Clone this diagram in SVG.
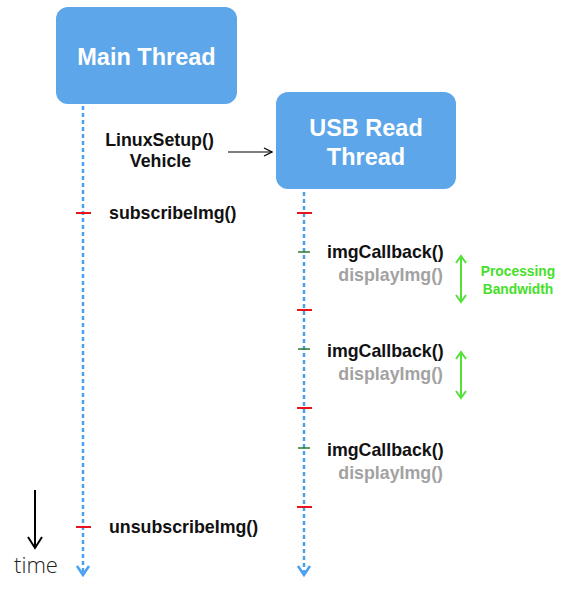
<svg xmlns="http://www.w3.org/2000/svg" width="576" height="600" viewBox="0 0 576 600">
<style>
.box{fill:#5ca6e9;}
.bt{font-family:"Liberation Sans",Arial,sans-serif;font-weight:bold;font-size:23.5px;fill:#fff;text-anchor:middle;}
.life{stroke:#4aa0ef;stroke-width:2.5;stroke-dasharray:4 3;fill:none;}
.head{stroke:#4aa0ef;stroke-width:2.5;fill:none;}
.red{stroke:#e8141c;stroke-width:2;}
.grn{stroke:#2a7a2a;stroke-width:1.5;}
.lbl{font-family:"Liberation Sans",Arial,sans-serif;font-weight:bold;font-size:17.8px;fill:#111;}
.gray{font-family:"Liberation Sans",Arial,sans-serif;font-weight:bold;font-size:17.8px;fill:#a2a2a2;text-anchor:end;}
.gt{font-family:"Liberation Sans",Arial,sans-serif;font-weight:bold;font-size:13.8px;fill:#44e02a;text-anchor:middle;}
.ga{stroke:#55e03a;stroke-width:2;fill:none;}
</style>
<defs>
<marker id="ah" markerWidth="10" markerHeight="10" refX="9" refY="5" orient="auto" markerUnits="userSpaceOnUse"><path d="M1,1 L9,5 L1,9" fill="none" stroke="#000" stroke-width="1.2"/></marker>
</defs>
<g id="main-thread">
<rect class="box" x="56" y="7" width="181" height="97" rx="12"/>
<text class="bt" x="146.5" y="65">Main Thread</text>
</g>
<g id="usb-thread">
<rect class="box" x="276" y="92" width="180" height="97" rx="12"/>
<text class="bt" x="366" y="136">USB Read</text>
<text class="bt" x="366" y="165">Thread</text>
</g>
<g id="connectors">
<line class="life" x1="83" y1="106" x2="83" y2="572"/>
<path class="head" d="M77,566 L83,575 L89,566"/>
<line class="life" x1="304" y1="192" x2="304" y2="572"/>
<path class="head" d="M298,566 L304,575 L310,566"/>
<line x1="228" y1="152" x2="272" y2="152" stroke="#000" stroke-width="1.2" marker-end="url(#ah)"/>
<line x1="35" y1="490" x2="35" y2="547" stroke="#000" stroke-width="2"/>
<path d="M28,537 L35,548 L42,537" fill="none" stroke="#000" stroke-width="2"/>
<line class="red" x1="76" y1="213" x2="91" y2="213"/>
<line class="red" x1="76" y1="527" x2="91" y2="527"/>
<line class="red" x1="297" y1="213" x2="312" y2="213"/>
<line class="grn" x1="298" y1="252" x2="310" y2="252"/>
<line class="red" x1="297" y1="310" x2="312" y2="310"/>
<line class="grn" x1="298" y1="349" x2="310" y2="349"/>
<line class="red" x1="297" y1="408" x2="312" y2="408"/>
<line class="grn" x1="298" y1="448" x2="310" y2="448"/>
<line class="red" x1="297" y1="507" x2="312" y2="507"/>
<line class="ga" x1="461" y1="257" x2="461" y2="301"/>
<path class="ga" d="M456,263 L461,256 L466,263 M456,295 L461,302 L466,295"/>
<line class="ga" x1="461" y1="353" x2="461" y2="397"/>
<path class="ga" d="M456,359 L461,352 L466,359 M456,391 L461,398 L466,391"/>
</g>
<g id="labels">
<text class="lbl" x="159.5" y="146" text-anchor="middle">LinuxSetup()</text>
<text class="lbl" x="160.5" y="167" text-anchor="middle">Vehicle</text>
<text class="lbl" x="109" y="219">subscribeImg()</text>
<text class="lbl" x="327" y="258">imgCallback()</text>
<text class="gray" x="443" y="281">displayImg()</text>
<text class="lbl" x="327" y="357">imgCallback()</text>
<text class="gray" x="443" y="380">displayImg()</text>
<text class="lbl" x="327" y="456">imgCallback()</text>
<text class="gray" x="443" y="479">displayImg()</text>
<text class="lbl" x="109" y="533">unsubscribeImg()</text>
<text class="gt" x="518" y="276">Processing</text>
<text class="gt" x="518" y="294">Bandwidth</text>
<text x="36" y="573" text-anchor="middle" font-family="'Open Sans','Liberation Sans',sans-serif" font-weight="300" font-size="22" fill="#222">time</text>
</g>
</svg>
